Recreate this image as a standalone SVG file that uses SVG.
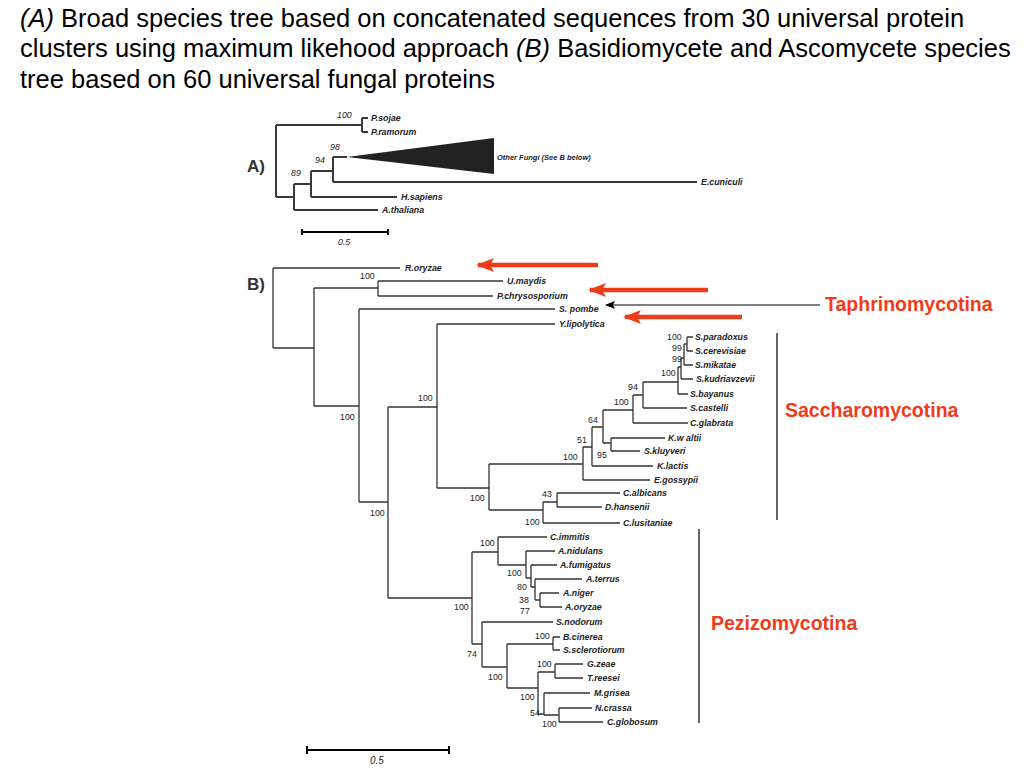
<svg xmlns="http://www.w3.org/2000/svg" width="1024" height="768" viewBox="0 0 1024 768">
<style>
.title{font-family:"Liberation Sans",Arial,sans-serif;font-size:25.5px;fill:#000}
.it{font-style:italic}
.lbl{font-family:"Liberation Sans",Arial,sans-serif;font-size:8.8px;font-style:italic;font-weight:bold;fill:#222}
.num{font-family:"Liberation Sans",Arial,sans-serif;font-size:8.8px;fill:#222}
.numA{font-family:"Liberation Sans",Arial,sans-serif;font-size:8.8px;font-style:italic;fill:#222}
.panel{font-family:"Liberation Sans",Arial,sans-serif;font-size:17px;font-weight:bold;fill:#333}
.grp{font-family:"Liberation Sans",Arial,sans-serif;font-size:19.5px;font-weight:bold;fill:#ee3c18}
.brA{fill:none;stroke:#3a3a3a;stroke-width:2}
.brB{fill:none;stroke:#333;stroke-width:1.3}
.red{fill:none;stroke:#ee3c18;stroke-width:4.5}
.blk{fill:none;stroke:#000;stroke-width:1.2}
.bar{fill:none;stroke:#000;stroke-width:1.2}
</style>
<defs>
<marker id="redhead" markerUnits="userSpaceOnUse" markerWidth="18" markerHeight="14" refX="16" refY="7" orient="auto" viewBox="0 0 18 14">
<path d="M0,0 L18,7 L0,14 L4,7 Z" fill="#ee3c18"/>
</marker>
<marker id="blkhead" markerUnits="userSpaceOnUse" markerWidth="10" markerHeight="8" refX="9" refY="4" orient="auto" viewBox="0 0 10 8">
<path d="M0,0 L10,4 L0,8 L2,4 Z" fill="#000"/>
</marker>
</defs>
<rect width="1024" height="768" fill="#fff"/>

<g id="title">
<text class="title" x="20" y="27"><tspan class="it">(A)</tspan> Broad species tree based on concatenated sequences from 30 universal protein</text>
<text class="title" x="20" y="57">clusters using maximum likehood approach <tspan class="it">(B)</tspan> Basidiomycete and Ascomycete species</text>
<text class="title" x="20" y="88">tree based on 60 universal fungal proteins</text>
</g>

<!-- ===== Tree A ===== -->
<g id="treeA-connectors">
<path class="brA" d="M276,125 V197 M276,125 H362 M362,118 V132 M362,118 H368 M362,132 H368"/>
<path class="brA" d="M276,197 H294 M294,184 V210 M294,210 H378"/>
<path class="brA" d="M294,184 H311 M311,171 V197 M311,197 H397"/>
<path class="brA" d="M311,171 H333 M333,157 V182 M333,182 H697 M333,157 H347"/>
<polygon points="347,157 494,138 494,174" fill="#222"/>
</g>
<g id="treeA-labels">
<text class="panel" x="247" y="172">A)</text>
<text class="numA" x="337" y="118">100</text>
<text class="numA" x="330" y="150">98</text>
<text class="numA" x="315" y="163">94</text>
<text class="numA" x="291" y="176">89</text>
</g>
<g id="P.sojae"><text class="lbl" x="371" y="121">P.sojae</text></g>
<g id="P.ramorum"><text class="lbl" x="371" y="135">P.ramorum</text></g>
<g id="OtherFungi"><text class="lbl" x="497" y="160" style="font-size:7.5px">Other Fungi (See B below)</text></g>
<g id="E.cuniculi"><text class="lbl" x="701" y="185">E.cuniculi</text></g>
<g id="H.sapiens"><text class="lbl" x="401" y="200">H.sapiens</text></g>
<g id="A.thaliana"><text class="lbl" x="382" y="213">A.thaliana</text></g>
<g id="scaleA">
<path class="bar" d="M302,232 H388 M302,229 V235 M388,229 V235" style="stroke-width:1.8"/>
<text class="numA" x="338" y="245">0.5</text>
</g>

<!-- ===== Tree B ===== -->
<g id="connectors">
<path class="brB" d="M273,268 V348 M273,268 H400"/>
<path class="brB" d="M273,348 H314 M314,288 V406"/>
<path class="brB" d="M314,288 H378 M378,281 V296 M378,281 H503 M378,296 H493"/>
<path class="brB" d="M314,406 H359 M359,309 V502 M359,309 H555"/>
<path class="brB" d="M359,502 H388 M388,407 V598"/>
<path class="brB" d="M388,407 H437 M437,324 V488 M437,324 H555"/>
<path class="brB" d="M437,488 H489 M489,464 V510"/>
<path class="brB" d="M489,464 H583 M583,447 V480 M583,480 H650"/>
<path class="brB" d="M583,447 H592 M592,427 V466 M592,466 H653"/>
<path class="brB" d="M592,427 H603 M603,410 V443"/>
<path class="brB" d="M603,443 H611 M611,438 V451 M611,438 H665 M611,451 H640"/>
<path class="brB" d="M603,410 H633 M633,395 V423 M633,423 H688"/>
<path class="brB" d="M633,395 H643 M643,382 V408 M643,408 H687"/>
<path class="brB" d="M643,382 H678 M678,367 V394 M678,394 H688"/>
<path class="brB" d="M678,367 H681 M681,358 V379 M681,379 H693"/>
<path class="brB" d="M681,358 H684 M684,344 V365 M684,365 H693"/>
<path class="brB" d="M684,344 H687 M687,337 V351 M687,337 H693 M687,351 H693"/>
<path class="brB" d="M489,510 H543 M543,502 V523 M543,523 H620"/>
<path class="brB" d="M543,502 H557 M557,493 V507 M557,493 H620 M557,507 H602"/>
<path class="brB" d="M388,598 H472 M472,552 V644"/>
<path class="brB" d="M472,552 H498 M498,537 V565 M498,537 H547"/>
<path class="brB" d="M498,565 H526 M526,551 V578 M526,551 H555"/>
<path class="brB" d="M526,578 H531 M531,565 V587 M531,565 H557"/>
<path class="brB" d="M531,587 H535 M535,579 V600 M535,579 H582"/>
<path class="brB" d="M535,600 H540 M540,593 V607 M540,593 H559 M540,607 H562"/>
<path class="brB" d="M472,644 H482 M482,622 V667 M482,622 H553"/>
<path class="brB" d="M482,667 H507 M507,644 V688"/>
<path class="brB" d="M507,644 H553 M553,637 V650 M553,637 H560 M553,650 H560"/>
<path class="brB" d="M507,688 H538 M538,672 V714"/>
<path class="brB" d="M538,672 H555 M555,664 V678 M555,664 H583 M555,678 H583"/>
<path class="brB" d="M538,714 H544 M544,693 V715 M544,693 H590"/>
<path class="brB" d="M544,715 H559 M559,708 V722 M559,708 H592 M559,722 H603"/>
<!-- arrows -->
<line class="red" x1="598" y1="265" x2="478" y2="265" marker-end="url(#redhead)"/>
<line class="red" x1="708" y1="290" x2="590" y2="290" marker-end="url(#redhead)"/>
<line class="red" x1="742" y1="317" x2="625" y2="317" marker-end="url(#redhead)"/>
<line class="blk" x1="820" y1="305" x2="606" y2="305" marker-end="url(#blkhead)"/>
<!-- clade bars -->
<path class="blk" d="M777,333 V520 M699,529 V723"/>
</g>

<g id="supports">
<text class="panel" x="247" y="290">B)</text>
<text class="num" x="360" y="279">100</text>
<text class="num" x="340" y="420">100</text>
<text class="num" x="370" y="516">100</text>
<text class="num" x="418" y="401">100</text>
<text class="num" x="470" y="501">100</text>
<text class="num" x="563" y="460">100</text>
<text class="num" x="577" y="443">51</text>
<text class="num" x="588" y="423">64</text>
<text class="num" x="597" y="458">95</text>
<text class="num" x="614" y="405">100</text>
<text class="num" x="628" y="390">94</text>
<text class="num" x="661" y="376">100</text>
<text class="num" x="672" y="362">99</text>
<text class="num" x="672" y="351">99</text>
<text class="num" x="667" y="340">100</text>
<text class="num" x="542" y="497">43</text>
<text class="num" x="525" y="525">100</text>
<text class="num" x="454" y="610">100</text>
<text class="num" x="480" y="546">100</text>
<text class="num" x="507" y="576">100</text>
<text class="num" x="517" y="590">80</text>
<text class="num" x="519" y="603">38</text>
<text class="num" x="520" y="614">77</text>
<text class="num" x="467" y="657">74</text>
<text class="num" x="488" y="680">100</text>
<text class="num" x="535" y="639">100</text>
<text class="num" x="537" y="667">100</text>
<text class="num" x="520" y="700">100</text>
<text class="num" x="530" y="716">54</text>
<text class="num" x="542" y="727">100</text>
</g>

<g id="R.oryzae"><text class="lbl" x="405" y="271">R.oryzae</text></g>
<g id="U.maydis"><text class="lbl" x="507" y="284">U.maydis</text></g>
<g id="P.chrysosporium"><text class="lbl" x="497" y="299">P.chrysosporium</text></g>
<g id="S.pombe"><text class="lbl" x="559" y="312">S. pombe</text></g>
<g id="Y.lipolytica"><text class="lbl" x="559" y="327">Y.lipolytica</text></g>
<g id="S.paradoxus"><text class="lbl" x="695" y="340">S.paradoxus</text></g>
<g id="S.cerevisiae"><text class="lbl" x="695" y="354">S.cerevisiae</text></g>
<g id="S.mikatae"><text class="lbl" x="695" y="368">S.mikatae</text></g>
<g id="S.kudriavzevii"><text class="lbl" x="696" y="382">S.kudriavzevii</text></g>
<g id="S.bayanus"><text class="lbl" x="690" y="397">S.bayanus</text></g>
<g id="S.castelli"><text class="lbl" x="690" y="411">S.castelli</text></g>
<g id="C.glabrata"><text class="lbl" x="690" y="426">C.glabrata</text></g>
<g id="K.waltii"><text class="lbl" x="668" y="441">K.w altii</text></g>
<g id="S.kluyveri"><text class="lbl" x="644" y="454">S.kluyveri</text></g>
<g id="K.lactis"><text class="lbl" x="657" y="469">K.lactis</text></g>
<g id="E.gossypii"><text class="lbl" x="654" y="483">E.gossypii</text></g>
<g id="C.albicans"><text class="lbl" x="623" y="496">C.albicans</text></g>
<g id="D.hansenii"><text class="lbl" x="605" y="510">D.hansenii</text></g>
<g id="C.lusitaniae"><text class="lbl" x="623" y="526">C.lusitaniae</text></g>
<g id="C.immitis"><text class="lbl" x="550" y="540">C.immitis</text></g>
<g id="A.nidulans"><text class="lbl" x="558" y="554">A.nidulans</text></g>
<g id="A.fumigatus"><text class="lbl" x="560" y="568">A.fumigatus</text></g>
<g id="A.terrus"><text class="lbl" x="586" y="582">A.terrus</text></g>
<g id="A.niger"><text class="lbl" x="563" y="596">A.niger</text></g>
<g id="A.oryzae"><text class="lbl" x="565" y="610">A.oryzae</text></g>
<g id="S.nodorum"><text class="lbl" x="556" y="625">S.nodorum</text></g>
<g id="B.cinerea"><text class="lbl" x="563" y="640">B.cinerea</text></g>
<g id="S.sclerotiorum"><text class="lbl" x="563" y="653">S.sclerotiorum</text></g>
<g id="G.zeae"><text class="lbl" x="587" y="667">G.zeae</text></g>
<g id="T.reesei"><text class="lbl" x="587" y="681">T.reesei</text></g>
<g id="M.grisea"><text class="lbl" x="594" y="696">M.grisea</text></g>
<g id="N.crassa"><text class="lbl" x="595" y="711">N.crassa</text></g>
<g id="C.globosum"><text class="lbl" x="607" y="725">C.globosum</text></g>

<g id="scaleB">
<path class="bar" d="M307,750 H449 M307,746 V754 M449,746 V754" style="stroke-width:2"/>
<text class="numA" x="370" y="764" style="font-size:10px">0.5</text>
</g>

<g id="Taphrinomycotina"><text class="grp" x="825" y="311">Taphrinomycotina</text></g>
<g id="Saccharomycotina"><text class="grp" x="785" y="417">Saccharomycotina</text></g>
<g id="Pezizomycotina"><text class="grp" x="711" y="630">Pezizomycotina</text></g>
</svg>
